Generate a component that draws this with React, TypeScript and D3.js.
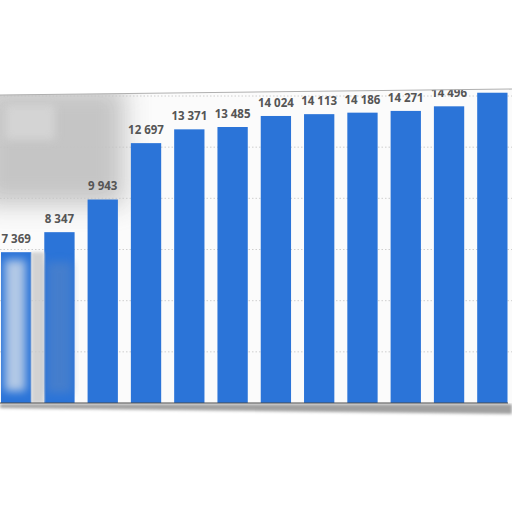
import React from 'react';
import * as d3 from 'd3';

// Chart values (years are not visible, kept as plain categories)
const years = ['2009', '2010', '2011', '2012', '2013', '2014', '2015', '2016', '2017', '2018', '2019', '2020'];
const values = [7369, 8347, 9943, 12697, 13371, 13485, 14024, 14113, 14186, 14271, 14496, 15160];
const gridTicks = [2500, 5000, 7500, 10000, 12500, 15000];

const W = 512;
const H = 512;
const baseY = 403;

const fmt = (v: number) => d3.format(',')(v).replace(/,/g, ' ');

export default function App() {
  const x = d3.scaleBand<string>()
    .domain(years)
    .range([1, 507.5])
    .paddingInner(0.3)
    .paddingOuter(0);

  const y = d3.scaleLinear()
    .domain([0, 15000])
    .range([baseY, 96]);

  return (
    <div style={{ position: 'absolute', left: 0, top: 0 }}>
      <svg width={W} height={H} style={{ display: 'block', background: '#ffffff' }}>
        <defs>
          <clipPath id="plotClip">
            <polygon points={`0,95 ${W},89 ${W},${baseY} 0,${baseY}`} />
          </clipPath>
          <filter id="blurBig" x="-40%" y="-40%" width="180%" height="180%">
            <feGaussianBlur stdDeviation="12" />
          </filter>
          <filter id="blurMid" x="-30%" y="-30%" width="160%" height="160%">
            <feGaussianBlur stdDeviation="4" />
          </filter>
          <filter id="blurSmall" x="-10%" y="-50%" width="120%" height="200%">
            <feGaussianBlur stdDeviation="1.5" />
          </filter>
        </defs>

        {/* shadow under the frame */}
        <polygon points={`0,${baseY + 1} ${W},${baseY + 1} ${W},${baseY + 11} 0,${baseY + 5}`} fill="#a0a0a0" filter="url(#blurSmall)" />

        <g clipPath="url(#plotClip)">
          <rect x={0} y={80} width={W} height={baseY - 80} fill="#fbfbfb" />

          {/* grid */}
          {gridTicks.map(t => (
            <line key={t} x1={0} x2={W} y1={y(t)} y2={y(t)}
              stroke="#c4c4c4" strokeWidth={0.8} strokeDasharray="1.5,2" />
          ))}

          {/* glare at the top left */}
          <rect x={-20} y={85} width={145} height={120} fill="#c2c2c2" opacity={0.95} filter="url(#blurBig)" />
          <rect x={5} y={105} width={50} height={35} fill="#dadada" opacity={0.7} filter="url(#blurMid)" />

          {/* bars */}
          {values.map((v, i) => (
            <rect key={years[i]}
              x={x(years[i])}
              y={y(v)}
              width={x.bandwidth()}
              height={baseY - y(v)}
              fill="#2b74d8" />
          ))}

          {/* fading over the first bars */}
          <rect x={x(years[0])! + 4} y={y(values[0]) + 8} width={x.bandwidth() - 10} height={baseY - y(values[0]) - 20}
            fill="#dfe4ea" opacity={0.75} filter="url(#blurMid)" />
          <rect x={x(years[0])! + x.bandwidth()} y={y(values[0])} width={13} height={baseY - y(values[0])}
            fill="#c9c9c9" opacity={0.8} filter="url(#blurSmall)" />
          <rect x={x(years[1])! + 3} y={y(values[1]) + 30} width={x.bandwidth() - 6} height={baseY - y(values[1]) - 40}
            fill="#5a86c4" opacity={0.55} filter="url(#blurMid)" />

          {/* value labels */}
          {values.map((v, i) => (
            <text key={'l' + years[i]}
              x={x(years[i])! + x.bandwidth() / 2}
              y={y(v) - 9}
              textAnchor="middle"
              fontFamily="'Open Sans', sans-serif"
              fontWeight={700}
              fontSize={11.5}
              fill="#555555">
              {fmt(v)}
            </text>
          ))}
        </g>

        {/* frame top edge */}
        <line x1={0} y1={95} x2={W} y2={89} stroke="#b0b0b0" strokeWidth={1.2} />

        {/* base line */}
        <line x1={0} x2={508} y1={baseY} y2={baseY} stroke="#4a4a4a" strokeWidth={1.2} />
      </svg>
    </div>
  );
}
